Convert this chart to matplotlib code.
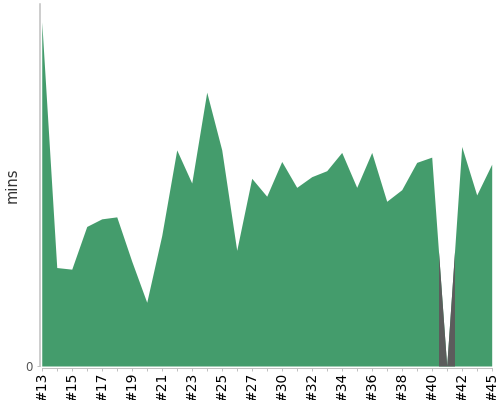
import numpy as np
import matplotlib
matplotlib.use("Agg")
import matplotlib.pyplot as plt
from matplotlib.patches import Rectangle


# ---------------------------
# Data (build durations, minutes)
# ---------------------------
builds = ["#13", "#14", "#15", "#16", "#17", "#18", "#19", "#20", "#21", "#22",
          "#23", "#24", "#25", "#26", "#27", "#28", "#30", "#31", "#32", "#33",
          "#34", "#35", "#36", "#37", "#38", "#39", "#40", "#41", "#42", "#44",
          "#45"]
durations = [19.01, 5.44, 5.35, 7.71, 8.13, 8.24, 5.79, 3.52, 7.21, 11.94,
             10.11, 15.13, 11.94, 6.39, 10.37, 9.38, 11.30, 9.87, 10.46, 10.79,
             11.80, 9.87, 11.80, 9.10, 9.74, 11.25, 11.54, 0.0, 12.13, 9.45,
             11.15]
failed_builds = ["#41"]

GREEN = "#449c6c"
GRAY = "#5c5c5c"
AXIS = "#c0c0c0"


fig = plt.figure(figsize=(5, 4), dpi=100)
ax = fig.add_axes([0.079, 0.085, 0.9044, 0.905])

x = np.arange(len(builds))
y = np.array(durations)

ax.fill_between(x, 0, y, color=GREEN, linewidth=0)

# recolor the area around failed builds
for b in failed_builds:
    i = builds.index(b)
    zone = Rectangle((i - 0.5, 0), 1, 1, transform=ax.get_xaxis_transform())
    ax.add_patch(zone)
    zone.set_visible(False)
    part = ax.fill_between(x, 0, y, color=GRAY, linewidth=0)
    part.set_clip_path(zone)

ax.set_xlim(-0.15, len(builds) - 1)
ax.set_ylim(0, 20)

# x axis
ax.set_xticks(x)
ax.set_xticklabels([b if i % 2 == 0 else "" for i, b in enumerate(builds)],
                   fontsize=6, color="#222222")
ax.tick_params(axis="x", length=2.2, width=0.7, color=AXIS, pad=0.5,
               labelrotation=90)

# y axis
ax.set_yticks([0])
ax.set_yticklabels(["0"], fontsize=8.5, color="#555555")
ax.tick_params(axis="y", length=2.2, width=0.7, color=AXIS, pad=3)
ax.set_ylabel("mins", fontsize=10.5, color="#333333")
ax.yaxis.set_label_coords(-0.044, 0.5)

for s in ["top", "right"]:
    ax.spines[s].set_visible(False)
ax.spines["left"].set_color(AXIS)
ax.spines["left"].set_linewidth(1.1)
ax.spines["bottom"].set_color(AXIS)
ax.spines["bottom"].set_linewidth(0.7)
ax.spines["bottom"].set_position(("outward", 1.5))
ax.spines["bottom"].set_bounds(0, len(builds) - 1)

fig.savefig("out.png", dpi=100)
